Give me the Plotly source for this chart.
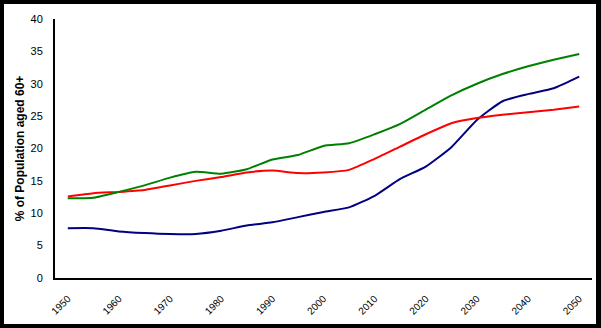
import plotly.graph_objects as go

# Share of population aged 60+, five-year steps
years = list(range(1950, 2055, 5))
series_green = [12.3, 12.4, 13.3, 14.3, 15.5, 16.4, 16.1, 16.8, 18.3, 19.0, 20.4,
                20.8, 22.2, 23.8, 26.0, 28.2, 30.0, 31.5, 32.7, 33.7, 34.6]
series_red = [12.6, 13.1, 13.3, 13.6, 14.3, 15.0, 15.6, 16.3, 16.6, 16.2, 16.3,
              16.7, 18.4, 20.3, 22.2, 23.9, 24.7, 25.2, 25.6, 26.0, 26.5]
series_navy = [7.7, 7.7, 7.2, 6.95, 6.8, 6.8, 7.3, 8.1, 8.6, 9.4, 10.2,
               10.9, 12.7, 15.3, 17.2, 20.2, 24.4, 27.3, 28.4, 29.3, 31.1]
x_ticks = list(range(1950, 2060, 10))
y_ticks = list(range(0, 45, 5))

W, H = 601, 328
ML, MR, MT, MB = 55, 9, 19, 50
plot_w = W - ML - MR
plot_h = H - MT - MB

fig = go.Figure()
for vals, col in [(series_navy, "#000080"), (series_red, "#ff0000"), (series_green, "#008000")]:
    fig.add_trace(go.Scatter(
        x=years, y=vals, mode="lines",
        line=dict(color=col, width=2, shape="spline", smoothing=0.5),
        showlegend=False, hoverinfo="skip",
    ))

# white panel inside a black frame
def px_to_paper_x(px):
    return (px - ML) / plot_w

def px_to_paper_y(py):
    return (H - MB - py) / plot_h

fig.add_shape(type="rect", xref="paper", yref="paper", layer="below",
              x0=px_to_paper_x(4), x1=px_to_paper_x(596),
              y0=px_to_paper_y(324), y1=px_to_paper_y(4),
              fillcolor="white", line=dict(width=0))

fig.update_layout(
    width=W, height=H,
    margin=dict(l=ML, r=MR, t=MT, b=MB, pad=0),
    paper_bgcolor="black", plot_bgcolor="white",
    font=dict(family="Liberation Sans, Arial, sans-serif", color="black", size=11),
)
fig.update_xaxes(
    range=[1947.5, 2052.5], tickvals=x_ticks, ticktext=[str(t) for t in x_ticks],
    tickangle=-45, tickfont=dict(size=10), showgrid=False, zeroline=False,
    showline=True, linecolor="black", linewidth=2, ticks="", ticklabelstandoff=9,
    automargin=False,
)
fig.update_yaxes(
    range=[0, 40], tickvals=y_ticks, showgrid=False, zeroline=False,
    showline=True, linecolor="black", linewidth=2, ticks="", ticklabelstandoff=8,
    title=dict(text="% of Population aged 60+", font=dict(size=12, family="Liberation Sans, Arial, sans-serif", weight="bold"),
               standoff=3),
    automargin=False,
)

fig.write_html("out.html")
